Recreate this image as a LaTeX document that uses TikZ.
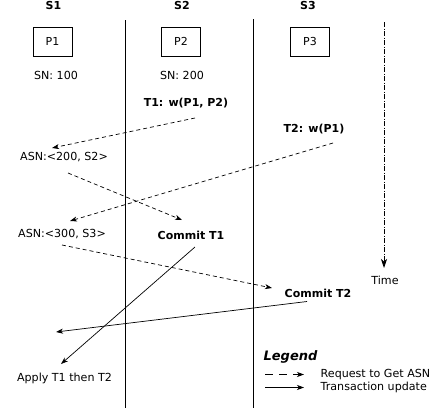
\documentclass[tikz,border=0pt]{standalone}
\usepackage{fontspec}
\setmainfont{DejaVu Sans}
\usetikzlibrary{arrows.meta}

\begin{document}
\begin{tikzpicture}[x=1pt,y=-1pt,
  txt/.style={inner sep=0pt, font=\fontsize{11.1}{13}\selectfont},
  btxt/.style={inner sep=0pt, font=\fontsize{11}{13}\selectfont\bfseries},
  part/.style={draw, line width=0.8pt, minimum width=39pt, minimum height=29pt,
               inner sep=0pt, font=\fontsize{11}{13}\selectfont},
  tip/.style={-{Stealth[length=7pt,width=5pt,inset=2pt]}},
  req/.style={tip, line width=0.7pt, dash pattern=on 4pt off 3pt},
  upd/.style={tip, line width=0.7pt},
  server/.style={line width=0.9pt}
]
\useasboundingbox (0,0) rectangle (434,410);

% server headings and partitions
\node[btxt] (s1) at (53.5,5) {S1};
\node[btxt] (s2) at (182,5) {S2};
\node[btxt] (s3) at (308,5) {S3};
\node[part] (p1) at (52.5,41.5) {P1};
\node[part] (p2) at (181,41.5) {P2};
\node[part] (p3) at (310,41.5) {P3};
\node[txt] (sn1) at (56,75) {SN: 100};
\node[txt] (sn2) at (182,75) {SN: 200};

% server boundaries
\draw[server] (125.5,20) -- (125.5,408);
\draw[server] (253,19) -- (253,408);

% time axis
\coordinate (ttop) at (384,22);
\coordinate (tbot) at (384,268);
\draw[line width=0.8pt, dash pattern=on 5pt off 1.5pt on 1pt off 1.5pt,
      -{Stealth[length=9pt,width=6pt,inset=2.5pt]}] (ttop) -- (tbot);
\node[txt] (time) at (385,280) {Time};

% transactions and sequence numbers
\node[btxt] (t1) at (186,103) {T1: w(P1, P2)};
\node[btxt] (t2) at (314,129.5) {T2: w(P1)};
\node[txt] (asn1) at (64,157) {ASN:<200, S2>};
\node[txt] (asn2) at (62,234) {ASN:<300, S3>};
\node[btxt] (c1) at (191,235) {Commit T1};
\node[btxt] (c2) at (318,293) {Commit T2};
\node[txt] (apply) at (64.5,378.5) {Apply T1 then T2};

% connector end points
\coordinate (a1s) at (195,118);
\coordinate (a1e) at (52,148);
\coordinate (a2s) at (68,173);
\coordinate (a2e) at (182,220);
\coordinate (a3s) at (333,143);
\coordinate (a3e) at (70,221);
\coordinate (a4s) at (62,245);
\coordinate (a4e) at (272,288);
\coordinate (u1s) at (195,247);
\coordinate (u1e) at (61,364);
\coordinate (u2s) at (307,301.5);
\coordinate (u2e) at (56,332);

\draw[req] (a1s) -- (a1e);
\draw[req] (a2s) -- (a2e);
\draw[req] (a3s) -- (a3e);
\draw[req] (a4s) -- (a4e);
\draw[upd] (u1s) -- (u1e);
\draw[upd] (u2s) -- (u2e);

% legend
\node[inner sep=0pt, font=\fontsize{13}{15}\selectfont\bfseries\itshape] (leg) at (290.5,357) {Legend};
\coordinate (l1s) at (265,374.5);
\coordinate (l1e) at (304,374.5);
\coordinate (l2s) at (265,387.5);
\coordinate (l2e) at (304,387.5);
\draw[tip, line width=0.7pt, dash pattern=on 8pt off 6pt] (l1s) -- (l1e);
\draw[upd] (l2s) -- (l2e);
\node[txt, anchor=west] (lreq) at (320.5,374.5) {Request to Get ASN};
\node[txt, anchor=west] (lupd) at (320.5,387.5) {Transaction update};
\end{tikzpicture}
\end{document}
